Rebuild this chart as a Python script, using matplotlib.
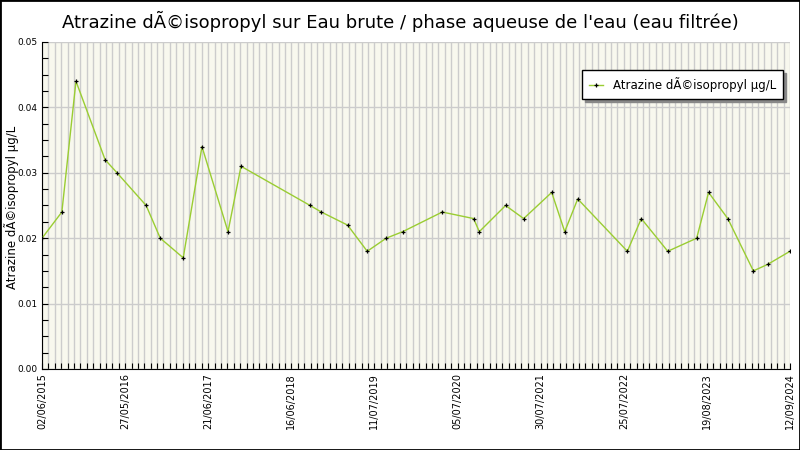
import numpy as np
import pandas as pd
import matplotlib
matplotlib.use('Agg')
import matplotlib.pyplot as plt
import matplotlib.dates as mdates
from matplotlib.patches import Rectangle

# Données
dates = ['2015-06-02', '2015-08-31', '2015-11-03', '2016-03-14', '2016-05-07',
         '2016-09-16', '2016-11-19', '2017-03-03', '2017-05-27', '2017-09-22',
         '2017-11-20', '2018-09-29', '2018-11-19', '2019-03-18', '2019-06-15',
         '2019-09-09', '2019-11-23', '2020-05-20', '2020-10-09', '2020-11-04',
         '2021-03-03', '2021-05-24', '2021-09-28', '2021-11-26', '2022-01-24',
         '2022-09-06', '2022-11-08', '2023-03-08', '2023-07-17', '2023-09-09',
         '2023-12-05', '2024-03-30', '2024-06-03', '2024-09-12']
valeurs = [0.020, 0.024, 0.044, 0.032, 0.030, 0.025, 0.020, 0.017, 0.034, 0.021,
           0.031, 0.025, 0.024, 0.022, 0.018, 0.020, 0.021, 0.024, 0.023, 0.021,
           0.025, 0.023, 0.027, 0.021, 0.026, 0.018, 0.023, 0.018, 0.020, 0.027,
           0.023, 0.015, 0.016, 0.018]
labels_x = ['02/06/2015', '27/05/2016', '21/06/2017', '16/06/2018', '11/07/2019',
            '05/07/2020', '30/07/2021', '25/07/2022', '19/08/2023', '12/09/2024']

titre = "Atrazine dÃ©isopropyl sur Eau brute / phase aqueuse de l'eau (eau filtrée)"
nom = "Atrazine dÃ©isopropyl µg/L"

x = mdates.date2num(pd.to_datetime(dates))
x0, x1 = mdates.date2num(pd.Timestamp('2015-06-02')), mdates.date2num(pd.Timestamp('2024-09-12'))

fig = plt.figure(figsize=(8, 4.5), dpi=100)
fig.patch.set_facecolor('white')
ax = fig.add_axes([0.0525, 0.18, 0.935, 0.7267])
ax.set_facecolor('#f8f8ee')

ax.plot(x, valeurs, color='#9acd32', lw=1, marker='+', ms=3, mew=0.9,
        mec='black', label=nom, zorder=3)

ax.set_xlim(x0, x1)
ax.set_ylim(0, 0.05)

# Graduations
ax.set_xticks(np.linspace(x0, x1, len(labels_x)))
ax.set_xticklabels(labels_x, rotation=90, fontsize=7)
ax.set_xticks(np.linspace(x0, x1, 118), minor=True)
ax.set_yticks(np.arange(0, 0.051, 0.01))
ax.set_yticklabels(['%.2f' % v for v in np.arange(0, 0.051, 0.01)], fontsize=6.5)
ax.set_yticks(np.arange(0, 0.051, 0.0025), minor=True)
ax.tick_params(axis='both', which='both', direction='in', length=4, width=0.8)
ax.tick_params(axis='x', pad=3)

ax.grid(True, which='both', axis='x', color='#cccccc', lw=1)
ax.grid(True, which='major', axis='y', color='#cccccc', lw=1)
ax.set_axisbelow(True)

for s in ['top', 'right']:
    ax.spines[s].set_visible(False)

ax.set_ylabel(nom, fontsize=8.5)
ax.yaxis.set_label_coords(-0.031, 0.495)
fig.suptitle(titre, fontsize=13, y=0.975)

leg = ax.legend(loc='upper right', bbox_to_anchor=(0.9906, 0.914), borderaxespad=0,
                fontsize=8.5, fancybox=False, shadow={'color': '#888888', 'alpha': 1},
                edgecolor='black', framealpha=1, handlelength=1.2, borderpad=0.6)
leg.get_frame().set_linewidth(1)

fig.patches.append(Rectangle((0, 0), 1, 1, transform=fig.transFigure, fill=False,
                             edgecolor='black', lw=2))

fig.savefig('out.png', dpi=100)
